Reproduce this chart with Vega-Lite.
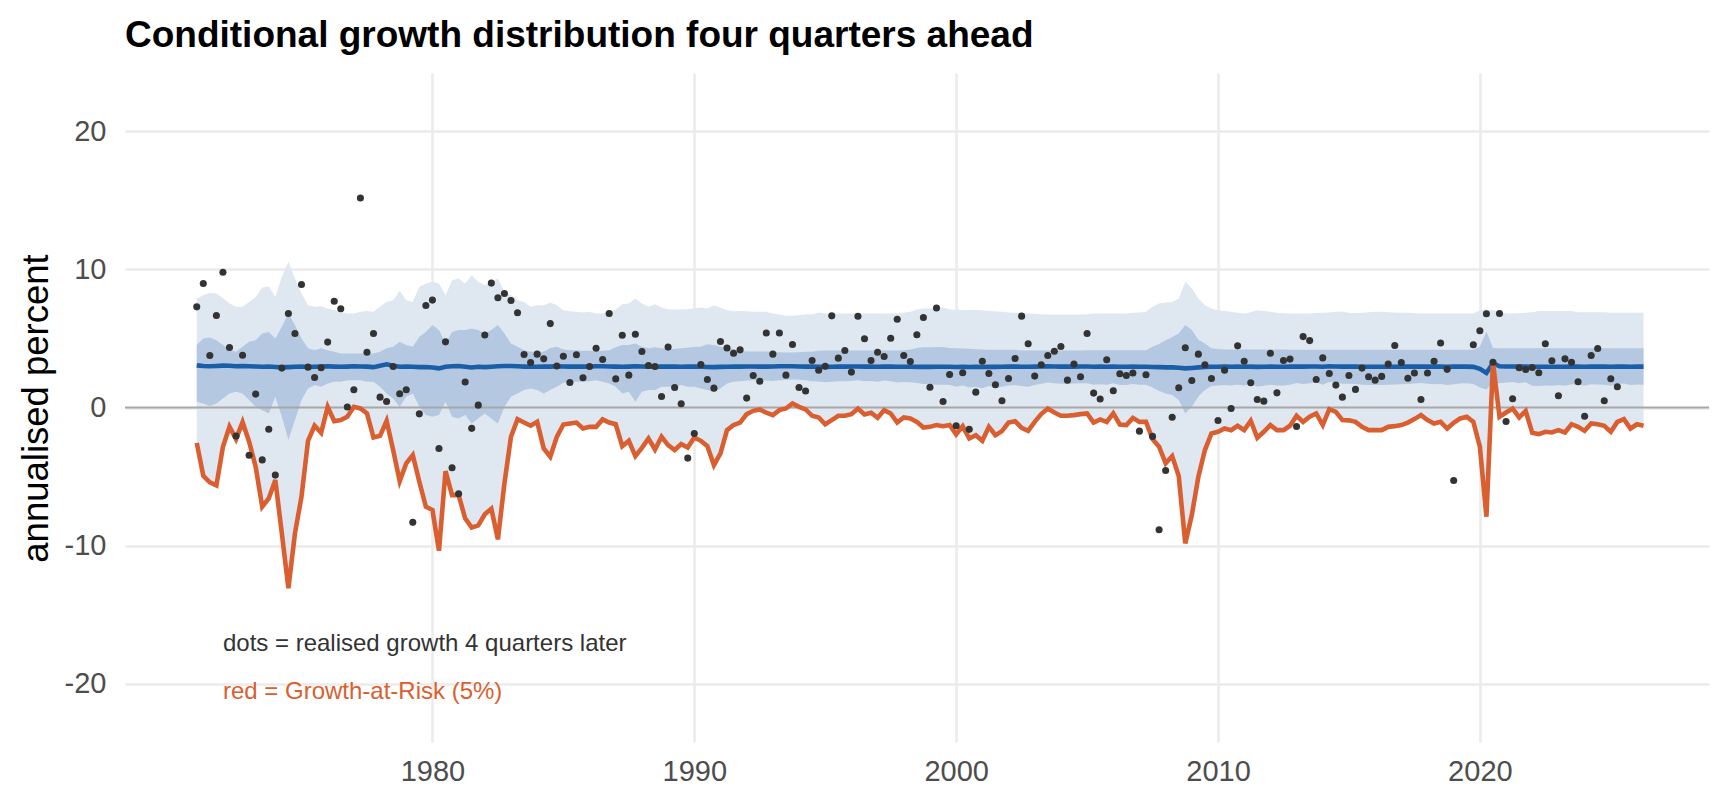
{
  "$schema": "https://vega.github.io/schema/vega-lite/v6.json",
  "width": 1584,
  "height": 669,
  "autosize": {"type": "none"},
  "padding": {"left": 125, "top": 73, "right": 19, "bottom": 64},
  "background": "white",
  "config": {
    "font": "Liberation Sans",
    "view": {"stroke": null},
    "axis": {
      "domain": false,
      "ticks": false,
      "tickSize": 0,
      "grid": true,
      "gridColor": "#ebebeb",
      "gridWidth": 2.6,
      "labelFont": "Liberation Sans",
      "labelFontSize": 29,
      "labelColor": "#4d4d4d"
    }
  },
  "title": {
    "text": "Conditional growth distribution four quarters ahead",
    "anchor": "start",
    "frame": "group",
    "font": "Liberation Sans",
    "fontSize": 37,
    "fontWeight": "bold",
    "color": "#000000",
    "baseline": "alphabetic",
    "offset": 28,
    "dy": 39
  },
  "data": {
    "values": [
      {"t":1971.00,"lo5":-2.56,"lo25":0.41,"med":3.05,"hi75":4.52,"hi95":7.88,"dot":7.28},
      {"t":1971.25,"lo5":-4.94,"lo25":0.29,"med":3.00,"hi75":5.00,"hi95":8.13,"dot":8.97},
      {"t":1971.50,"lo5":-5.42,"lo25":0.10,"med":2.98,"hi75":5.07,"hi95":8.30,"dot":3.76},
      {"t":1971.75,"lo5":-5.64,"lo25":0.29,"med":3.00,"hi75":4.87,"hi95":8.25,"dot":6.65},
      {"t":1972.00,"lo5":-2.84,"lo25":0.66,"med":3.03,"hi75":4.52,"hi95":7.90,"dot":9.79},
      {"t":1972.25,"lo5":-1.39,"lo25":1.02,"med":3.02,"hi75":4.15,"hi95":7.52,"dot":4.34},
      {"t":1972.50,"lo5":-2.29,"lo25":1.14,"med":2.98,"hi75":4.03,"hi95":7.28,"dot":-2.07},
      {"t":1972.75,"lo5":-1.06,"lo25":1.02,"med":3.00,"hi75":4.40,"hi95":7.28,"dot":3.78},
      {"t":1973.00,"lo5":-2.48,"lo25":0.54,"med":2.98,"hi75":4.75,"hi95":7.64,"dot":-3.45},
      {"t":1973.25,"lo5":-4.29,"lo25":0.05,"med":2.97,"hi75":4.87,"hi95":8.00,"dot":0.97},
      {"t":1973.50,"lo5":-7.18,"lo25":-0.19,"med":2.95,"hi75":5.35,"hi95":8.68,"dot":-3.79},
      {"t":1973.75,"lo5":-6.58,"lo25":-0.43,"med":2.97,"hi75":5.47,"hi95":8.78,"dot":-1.57},
      {"t":1974.00,"lo5":-5.25,"lo25":0.78,"med":2.93,"hi75":5.00,"hi95":8.00,"dot":-4.89},
      {"t":1974.25,"lo5":-9.11,"lo25":-0.67,"med":2.90,"hi75":5.84,"hi95":9.45,"dot":2.85},
      {"t":1974.50,"lo5":-13.08,"lo25":-2.36,"med":2.92,"hi75":6.80,"hi95":10.54,"dot":6.80},
      {"t":1974.75,"lo5":-9.11,"lo25":-0.91,"med":2.95,"hi75":5.96,"hi95":9.33,"dot":5.35},
      {"t":1975.00,"lo5":-6.45,"lo25":0.54,"med":2.97,"hi75":5.00,"hi95":8.25,"dot":8.90},
      {"t":1975.25,"lo5":-2.41,"lo25":1.38,"med":2.93,"hi75":4.28,"hi95":7.40,"dot":2.92},
      {"t":1975.50,"lo5":-1.32,"lo25":1.62,"med":2.95,"hi75":4.15,"hi95":7.28,"dot":2.17},
      {"t":1975.75,"lo5":-1.83,"lo25":1.50,"med":2.97,"hi75":4.28,"hi95":7.33,"dot":2.87},
      {"t":1976.00,"lo5":0.05,"lo25":1.74,"med":2.98,"hi75":4.15,"hi95":7.16,"dot":4.73},
      {"t":1976.25,"lo5":-0.99,"lo25":1.86,"med":2.96,"hi75":4.03,"hi95":7.04,"dot":7.69},
      {"t":1976.50,"lo5":-0.91,"lo25":1.86,"med":2.95,"hi75":3.91,"hi95":6.92,"dot":7.14},
      {"t":1976.75,"lo5":-0.67,"lo25":1.98,"med":2.96,"hi75":3.91,"hi95":6.80,"dot":0.03},
      {"t":1977.00,"lo5":0.05,"lo25":1.98,"med":2.98,"hi75":3.91,"hi95":6.80,"dot":1.28},
      {"t":1977.25,"lo5":-0.07,"lo25":1.98,"med":2.97,"hi75":3.91,"hi95":6.92,"dot":15.16},
      {"t":1977.50,"lo5":-0.43,"lo25":1.86,"med":2.96,"hi75":3.91,"hi95":6.98,"dot":4.00},
      {"t":1977.75,"lo5":-2.17,"lo25":1.86,"med":2.92,"hi75":3.91,"hi95":6.92,"dot":5.35},
      {"t":1978.00,"lo5":-2.05,"lo25":1.50,"med":3.02,"hi75":4.03,"hi95":7.28,"dot":0.75},
      {"t":1978.25,"lo5":-0.96,"lo25":1.02,"med":3.12,"hi75":4.28,"hi95":7.64,"dot":0.44},
      {"t":1978.50,"lo5":-3.08,"lo25":0.66,"med":3.02,"hi75":4.40,"hi95":7.76,"dot":2.97},
      {"t":1978.75,"lo5":-5.33,"lo25":0.05,"med":2.95,"hi75":4.75,"hi95":8.45,"dot":0.99},
      {"t":1979.00,"lo5":-4.04,"lo25":0.78,"med":2.97,"hi75":4.52,"hi95":7.76,"dot":1.28},
      {"t":1979.25,"lo5":-3.44,"lo25":1.02,"med":2.95,"hi75":4.40,"hi95":7.64,"dot":-8.31},
      {"t":1979.50,"lo5":-5.37,"lo25":0.05,"med":2.92,"hi75":5.12,"hi95":8.73,"dot":-0.46},
      {"t":1979.75,"lo5":-7.18,"lo25":-0.55,"med":2.93,"hi75":5.47,"hi95":8.97,"dot":7.38},
      {"t":1980.00,"lo5":-7.42,"lo25":-0.67,"med":2.90,"hi75":5.96,"hi95":9.09,"dot":7.77},
      {"t":1980.25,"lo5":-10.36,"lo25":-0.55,"med":2.83,"hi75":5.60,"hi95":8.97,"dot":-2.96},
      {"t":1980.50,"lo5":-4.60,"lo25":0.41,"med":2.95,"hi75":4.63,"hi95":8.13,"dot":4.75},
      {"t":1980.75,"lo5":-6.34,"lo25":-0.67,"med":2.98,"hi75":5.47,"hi95":9.21,"dot":-4.36},
      {"t":1981.00,"lo5":-6.34,"lo25":-0.79,"med":3.00,"hi75":5.60,"hi95":9.33,"dot":-6.24},
      {"t":1981.25,"lo5":-8.02,"lo25":-0.55,"med":2.95,"hi75":5.60,"hi95":8.97,"dot":1.84},
      {"t":1981.50,"lo5":-8.69,"lo25":-1.15,"med":2.90,"hi75":5.72,"hi95":9.57,"dot":-1.51},
      {"t":1981.75,"lo5":-8.53,"lo25":-0.79,"med":2.95,"hi75":5.60,"hi95":9.09,"dot":0.17},
      {"t":1982.00,"lo5":-7.73,"lo25":-0.43,"med":2.92,"hi75":5.35,"hi95":8.85,"dot":5.24},
      {"t":1982.25,"lo5":-7.32,"lo25":-0.79,"med":2.95,"hi75":5.60,"hi95":9.09,"dot":9.00},
      {"t":1982.50,"lo5":-9.54,"lo25":-1.15,"med":2.98,"hi75":5.96,"hi95":9.33,"dot":7.94},
      {"t":1982.75,"lo5":-5.49,"lo25":0.05,"med":3.00,"hi75":5.35,"hi95":8.37,"dot":8.25},
      {"t":1983.00,"lo5":-2.12,"lo25":0.78,"med":3.00,"hi75":4.63,"hi95":8.13,"dot":7.74},
      {"t":1983.25,"lo5":-0.84,"lo25":1.02,"med":2.98,"hi75":4.40,"hi95":7.76,"dot":6.85},
      {"t":1983.50,"lo5":-1.08,"lo25":1.26,"med":2.96,"hi75":4.15,"hi95":7.64,"dot":3.83},
      {"t":1983.75,"lo5":-1.32,"lo25":1.38,"med":2.95,"hi75":4.03,"hi95":7.28,"dot":3.25},
      {"t":1984.00,"lo5":-1.04,"lo25":1.26,"med":2.95,"hi75":4.03,"hi95":7.40,"dot":3.86},
      {"t":1984.25,"lo5":-2.96,"lo25":1.02,"med":2.97,"hi75":4.03,"hi95":7.40,"dot":3.52},
      {"t":1984.50,"lo5":-3.56,"lo25":1.26,"med":2.96,"hi75":4.30,"hi95":7.60,"dot":6.07},
      {"t":1984.75,"lo5":-2.12,"lo25":1.50,"med":2.98,"hi75":4.40,"hi95":7.40,"dot":3.00},
      {"t":1985.00,"lo5":-1.23,"lo25":1.79,"med":2.97,"hi75":4.20,"hi95":7.04,"dot":3.71},
      {"t":1985.25,"lo5":-1.16,"lo25":1.86,"med":2.96,"hi75":4.15,"hi95":6.97,"dot":1.81},
      {"t":1985.50,"lo5":-1.09,"lo25":1.86,"med":2.97,"hi75":4.15,"hi95":6.92,"dot":3.81},
      {"t":1985.75,"lo5":-1.52,"lo25":1.86,"med":2.96,"hi75":4.10,"hi95":6.87,"dot":2.15},
      {"t":1986.00,"lo5":-1.40,"lo25":1.90,"med":2.97,"hi75":4.10,"hi95":6.92,"dot":2.97},
      {"t":1986.25,"lo5":-1.40,"lo25":1.98,"med":2.98,"hi75":4.03,"hi95":6.80,"dot":4.29},
      {"t":1986.50,"lo5":-0.86,"lo25":1.86,"med":2.98,"hi75":4.10,"hi95":6.80,"dot":3.47},
      {"t":1986.75,"lo5":-1.09,"lo25":1.74,"med":2.97,"hi75":4.15,"hi95":6.92,"dot":6.80},
      {"t":1987.00,"lo5":-1.21,"lo25":1.50,"med":2.96,"hi75":4.35,"hi95":7.09,"dot":2.07},
      {"t":1987.25,"lo5":-2.80,"lo25":1.02,"med":2.95,"hi75":4.52,"hi95":7.47,"dot":5.23},
      {"t":1987.50,"lo5":-2.41,"lo25":1.14,"med":2.96,"hi75":4.52,"hi95":7.52,"dot":2.34},
      {"t":1987.75,"lo5":-3.52,"lo25":0.41,"med":2.98,"hi75":4.63,"hi95":7.88,"dot":5.30},
      {"t":1988.00,"lo5":-2.92,"lo25":1.14,"med":2.97,"hi75":4.40,"hi95":7.52,"dot":4.05},
      {"t":1988.25,"lo5":-2.24,"lo25":1.26,"med":2.96,"hi75":4.28,"hi95":7.28,"dot":3.04},
      {"t":1988.50,"lo5":-3.04,"lo25":1.26,"med":2.95,"hi75":4.35,"hi95":7.47,"dot":2.97},
      {"t":1988.75,"lo5":-2.12,"lo25":1.50,"med":2.96,"hi75":4.28,"hi95":7.23,"dot":0.80},
      {"t":1989.00,"lo5":-2.72,"lo25":1.50,"med":2.97,"hi75":4.23,"hi95":7.09,"dot":4.37},
      {"t":1989.25,"lo5":-3.08,"lo25":1.50,"med":2.96,"hi75":4.23,"hi95":7.09,"dot":1.45},
      {"t":1989.50,"lo5":-2.65,"lo25":1.62,"med":2.95,"hi75":4.28,"hi95":7.09,"dot":0.27},
      {"t":1989.75,"lo5":-2.89,"lo25":1.50,"med":2.96,"hi75":4.33,"hi95":7.11,"dot":-3.66},
      {"t":1990.00,"lo5":-2.17,"lo25":1.50,"med":2.97,"hi75":4.40,"hi95":7.16,"dot":-1.88},
      {"t":1990.25,"lo5":-2.41,"lo25":1.38,"med":2.95,"hi75":4.40,"hi95":7.23,"dot":3.11},
      {"t":1990.50,"lo5":-2.80,"lo25":1.26,"med":2.93,"hi75":4.58,"hi95":7.16,"dot":2.03},
      {"t":1990.75,"lo5":-4.17,"lo25":1.14,"med":2.92,"hi75":4.52,"hi95":7.40,"dot":1.40},
      {"t":1991.00,"lo5":-3.32,"lo25":1.38,"med":2.94,"hi75":4.40,"hi95":7.21,"dot":4.77},
      {"t":1991.25,"lo5":-1.64,"lo25":1.74,"med":2.95,"hi75":4.28,"hi95":7.04,"dot":4.31},
      {"t":1991.50,"lo5":-1.27,"lo25":1.86,"med":2.96,"hi75":4.23,"hi95":6.97,"dot":3.93},
      {"t":1991.75,"lo5":-1.09,"lo25":1.90,"med":2.96,"hi75":4.10,"hi95":6.99,"dot":4.17},
      {"t":1992.00,"lo5":-0.48,"lo25":1.95,"med":2.97,"hi75":4.05,"hi95":6.97,"dot":0.68},
      {"t":1992.25,"lo5":-0.24,"lo25":1.98,"med":2.97,"hi75":4.05,"hi95":6.92,"dot":2.32},
      {"t":1992.50,"lo5":-0.14,"lo25":1.98,"med":2.96,"hi75":4.05,"hi95":6.92,"dot":1.90},
      {"t":1992.75,"lo5":-0.38,"lo25":1.95,"med":2.96,"hi75":4.05,"hi95":6.92,"dot":5.39},
      {"t":1993.00,"lo5":-0.55,"lo25":1.92,"med":2.97,"hi75":4.03,"hi95":6.80,"dot":3.86},
      {"t":1993.25,"lo5":-0.19,"lo25":1.98,"med":2.98,"hi75":4.00,"hi95":6.72,"dot":5.39},
      {"t":1993.50,"lo5":-0.07,"lo25":2.00,"med":2.98,"hi75":3.98,"hi95":6.63,"dot":2.34},
      {"t":1993.75,"lo5":0.29,"lo25":2.02,"med":2.98,"hi75":3.98,"hi95":6.63,"dot":4.56},
      {"t":1994.00,"lo5":0.05,"lo25":2.00,"med":2.97,"hi75":4.00,"hi95":6.68,"dot":1.45},
      {"t":1994.25,"lo5":-0.14,"lo25":1.98,"med":2.96,"hi75":4.03,"hi95":6.75,"dot":1.19},
      {"t":1994.50,"lo5":-0.60,"lo25":1.90,"med":2.96,"hi75":4.03,"hi95":6.72,"dot":3.40},
      {"t":1994.75,"lo5":-0.72,"lo25":1.88,"med":2.95,"hi75":4.10,"hi95":6.87,"dot":2.70},
      {"t":1995.00,"lo5":-1.21,"lo25":1.82,"med":2.94,"hi75":4.12,"hi95":6.80,"dot":2.99},
      {"t":1995.25,"lo5":-0.91,"lo25":1.86,"med":2.95,"hi75":4.12,"hi95":6.80,"dot":6.63},
      {"t":1995.50,"lo5":-0.60,"lo25":1.90,"med":2.96,"hi75":4.12,"hi95":6.80,"dot":3.57},
      {"t":1995.75,"lo5":-0.60,"lo25":1.90,"med":2.96,"hi75":4.12,"hi95":6.80,"dot":4.12},
      {"t":1996.00,"lo5":-0.48,"lo25":1.92,"med":2.97,"hi75":4.12,"hi95":6.80,"dot":2.56},
      {"t":1996.25,"lo5":-0.07,"lo25":1.98,"med":2.97,"hi75":4.12,"hi95":6.80,"dot":6.60},
      {"t":1996.50,"lo5":-0.50,"lo25":1.90,"med":2.96,"hi75":4.12,"hi95":6.80,"dot":4.97},
      {"t":1996.75,"lo5":-0.38,"lo25":1.92,"med":2.96,"hi75":4.12,"hi95":6.80,"dot":3.40},
      {"t":1997.00,"lo5":-0.75,"lo25":1.86,"med":2.95,"hi75":4.12,"hi95":6.80,"dot":4.00},
      {"t":1997.25,"lo5":-0.19,"lo25":1.95,"med":2.96,"hi75":4.12,"hi95":6.80,"dot":3.69},
      {"t":1997.50,"lo5":-0.43,"lo25":1.90,"med":2.96,"hi75":4.12,"hi95":6.80,"dot":5.01},
      {"t":1997.75,"lo5":-1.09,"lo25":1.80,"med":2.95,"hi75":4.12,"hi95":6.80,"dot":6.39},
      {"t":1998.00,"lo5":-0.72,"lo25":1.85,"med":2.95,"hi75":4.15,"hi95":6.85,"dot":3.76},
      {"t":1998.25,"lo5":-0.79,"lo25":1.82,"med":2.95,"hi75":4.20,"hi95":6.92,"dot":3.33},
      {"t":1998.50,"lo5":-1.04,"lo25":1.78,"med":2.94,"hi75":4.30,"hi95":7.09,"dot":5.26},
      {"t":1998.75,"lo5":-1.45,"lo25":1.70,"med":2.94,"hi75":4.35,"hi95":7.16,"dot":6.51},
      {"t":1999.00,"lo5":-1.40,"lo25":1.68,"med":2.94,"hi75":4.35,"hi95":7.16,"dot":1.47},
      {"t":1999.25,"lo5":-1.27,"lo25":1.65,"med":2.95,"hi75":4.38,"hi95":7.23,"dot":7.20},
      {"t":1999.50,"lo5":-1.35,"lo25":1.65,"med":2.95,"hi75":4.38,"hi95":7.23,"dot":0.44},
      {"t":1999.75,"lo5":-1.27,"lo25":1.62,"med":2.95,"hi75":4.30,"hi95":7.09,"dot":2.39},
      {"t":2000.00,"lo5":-1.95,"lo25":1.50,"med":2.93,"hi75":4.28,"hi95":7.07,"dot":-1.32},
      {"t":2000.25,"lo5":-1.35,"lo25":1.60,"med":2.95,"hi75":4.27,"hi95":7.05,"dot":2.51},
      {"t":2000.50,"lo5":-2.24,"lo25":1.45,"med":2.93,"hi75":4.25,"hi95":7.05,"dot":-1.58},
      {"t":2000.75,"lo5":-2.00,"lo25":1.50,"med":2.94,"hi75":4.22,"hi95":7.05,"dot":1.11},
      {"t":2001.00,"lo5":-2.41,"lo25":1.40,"med":2.93,"hi75":4.20,"hi95":7.03,"dot":3.35},
      {"t":2001.25,"lo5":-1.40,"lo25":1.55,"med":2.95,"hi75":4.17,"hi95":6.99,"dot":2.46},
      {"t":2001.50,"lo5":-2.00,"lo25":1.45,"med":2.94,"hi75":4.17,"hi95":6.95,"dot":1.64},
      {"t":2001.75,"lo5":-1.71,"lo25":1.50,"med":2.95,"hi75":4.17,"hi95":6.92,"dot":0.49},
      {"t":2002.00,"lo5":-1.09,"lo25":1.60,"med":2.96,"hi75":4.17,"hi95":6.88,"dot":2.10},
      {"t":2002.25,"lo5":-0.99,"lo25":1.62,"med":2.96,"hi75":4.17,"hi95":6.85,"dot":3.55},
      {"t":2002.50,"lo5":-1.47,"lo25":1.55,"med":2.95,"hi75":4.13,"hi95":6.82,"dot":6.61},
      {"t":2002.75,"lo5":-1.69,"lo25":1.50,"med":2.95,"hi75":4.13,"hi95":6.80,"dot":4.61},
      {"t":2003.00,"lo5":-1.04,"lo25":1.62,"med":2.96,"hi75":4.13,"hi95":6.78,"dot":2.27},
      {"t":2003.25,"lo5":-0.48,"lo25":1.72,"med":2.97,"hi75":4.13,"hi95":6.75,"dot":3.09},
      {"t":2003.50,"lo5":-0.07,"lo25":1.80,"med":2.98,"hi75":4.13,"hi95":6.73,"dot":3.76},
      {"t":2003.75,"lo5":-0.36,"lo25":1.76,"med":2.97,"hi75":4.13,"hi95":6.72,"dot":4.07},
      {"t":2004.00,"lo5":-0.60,"lo25":1.72,"med":2.96,"hi75":4.13,"hi95":6.72,"dot":4.41},
      {"t":2004.25,"lo5":-0.60,"lo25":1.72,"med":2.96,"hi75":4.13,"hi95":6.72,"dot":1.98},
      {"t":2004.50,"lo5":-0.55,"lo25":1.74,"med":2.96,"hi75":4.13,"hi95":6.72,"dot":3.14},
      {"t":2004.75,"lo5":-0.48,"lo25":1.75,"med":2.97,"hi75":4.13,"hi95":6.72,"dot":2.22},
      {"t":2005.00,"lo5":-0.43,"lo25":1.76,"med":2.97,"hi75":4.15,"hi95":6.75,"dot":5.35},
      {"t":2005.25,"lo5":-1.09,"lo25":1.65,"med":2.95,"hi75":4.15,"hi95":6.80,"dot":1.04},
      {"t":2005.50,"lo5":-0.86,"lo25":1.68,"med":2.96,"hi75":4.15,"hi95":6.80,"dot":0.61},
      {"t":2005.75,"lo5":-1.04,"lo25":1.65,"med":2.95,"hi75":4.15,"hi95":6.80,"dot":3.45},
      {"t":2006.00,"lo5":-0.43,"lo25":1.75,"med":2.96,"hi75":4.15,"hi95":6.80,"dot":1.21},
      {"t":2006.25,"lo5":-1.23,"lo25":1.62,"med":2.95,"hi75":4.15,"hi95":6.80,"dot":2.44},
      {"t":2006.50,"lo5":-1.27,"lo25":1.62,"med":2.95,"hi75":4.15,"hi95":6.80,"dot":2.32},
      {"t":2006.75,"lo5":-0.75,"lo25":1.70,"med":2.96,"hi75":4.15,"hi95":6.85,"dot":2.49},
      {"t":2007.00,"lo5":-1.04,"lo25":1.65,"med":2.95,"hi75":4.15,"hi95":6.88,"dot":-1.71},
      {"t":2007.25,"lo5":-1.04,"lo25":1.65,"med":2.95,"hi75":4.15,"hi95":6.92,"dot":2.37},
      {"t":2007.50,"lo5":-2.29,"lo25":1.45,"med":2.93,"hi75":4.40,"hi95":7.28,"dot":-2.09},
      {"t":2007.75,"lo5":-2.84,"lo25":1.20,"med":2.92,"hi75":4.60,"hi95":7.52,"dot":-8.84},
      {"t":2008.00,"lo5":-4.04,"lo25":1.02,"med":2.90,"hi75":4.87,"hi95":7.60,"dot":-4.56},
      {"t":2008.25,"lo5":-3.52,"lo25":0.90,"med":2.90,"hi75":5.10,"hi95":7.64,"dot":-0.70},
      {"t":2008.50,"lo5":-4.96,"lo25":0.54,"med":2.88,"hi75":5.35,"hi95":7.88,"dot":1.43},
      {"t":2008.75,"lo5":-9.83,"lo25":-0.43,"med":2.83,"hi75":5.96,"hi95":9.09,"dot":4.32},
      {"t":2009.00,"lo5":-7.78,"lo25":0.05,"med":2.86,"hi75":5.60,"hi95":8.61,"dot":1.95},
      {"t":2009.25,"lo5":-5.01,"lo25":0.80,"med":2.90,"hi75":4.90,"hi95":7.88,"dot":3.86},
      {"t":2009.50,"lo5":-3.08,"lo25":1.26,"med":2.93,"hi75":4.63,"hi95":7.40,"dot":3.09},
      {"t":2009.75,"lo5":-1.88,"lo25":1.55,"med":2.95,"hi75":4.28,"hi95":7.16,"dot":2.10},
      {"t":2010.00,"lo5":-1.76,"lo25":1.60,"med":2.95,"hi75":4.23,"hi95":7.04,"dot":-0.94},
      {"t":2010.25,"lo5":-1.52,"lo25":1.62,"med":2.96,"hi75":4.20,"hi95":6.99,"dot":2.70},
      {"t":2010.50,"lo5":-1.64,"lo25":1.60,"med":2.95,"hi75":4.20,"hi95":6.92,"dot":-0.07},
      {"t":2010.75,"lo5":-1.32,"lo25":1.65,"med":2.96,"hi75":4.20,"hi95":6.85,"dot":4.46},
      {"t":2011.00,"lo5":-1.64,"lo25":1.60,"med":2.95,"hi75":4.20,"hi95":6.80,"dot":3.35},
      {"t":2011.25,"lo5":-0.96,"lo25":1.72,"med":2.96,"hi75":4.20,"hi95":6.90,"dot":1.79},
      {"t":2011.50,"lo5":-2.19,"lo25":1.50,"med":2.94,"hi75":4.20,"hi95":7.04,"dot":0.58},
      {"t":2011.75,"lo5":-1.76,"lo25":1.58,"med":2.95,"hi75":4.20,"hi95":6.98,"dot":0.46},
      {"t":2012.00,"lo5":-1.27,"lo25":1.65,"med":2.96,"hi75":4.20,"hi95":6.92,"dot":3.93},
      {"t":2012.25,"lo5":-1.64,"lo25":1.60,"med":2.95,"hi75":4.20,"hi95":6.85,"dot":1.06},
      {"t":2012.50,"lo5":-1.64,"lo25":1.60,"med":2.95,"hi75":4.20,"hi95":6.82,"dot":3.40},
      {"t":2012.75,"lo5":-1.32,"lo25":1.65,"med":2.96,"hi75":4.18,"hi95":6.80,"dot":3.50},
      {"t":2013.00,"lo5":-0.60,"lo25":1.78,"med":2.97,"hi75":4.18,"hi95":6.80,"dot":-1.37},
      {"t":2013.25,"lo5":-1.04,"lo25":1.70,"med":2.96,"hi75":4.18,"hi95":6.80,"dot":5.13},
      {"t":2013.50,"lo5":-0.67,"lo25":1.76,"med":2.97,"hi75":4.18,"hi95":6.80,"dot":4.84},
      {"t":2013.75,"lo5":-0.43,"lo25":1.80,"med":2.97,"hi75":4.18,"hi95":6.83,"dot":2.03},
      {"t":2014.00,"lo5":-1.27,"lo25":1.65,"med":2.95,"hi75":4.18,"hi95":6.85,"dot":3.59},
      {"t":2014.25,"lo5":-0.12,"lo25":1.85,"med":2.98,"hi75":4.18,"hi95":6.88,"dot":2.46},
      {"t":2014.50,"lo5":-0.31,"lo25":1.82,"med":2.97,"hi75":4.18,"hi95":6.92,"dot":1.62},
      {"t":2014.75,"lo5":-0.91,"lo25":1.72,"med":2.96,"hi75":4.18,"hi95":6.95,"dot":0.75},
      {"t":2015.00,"lo5":-0.93,"lo25":1.72,"med":2.96,"hi75":4.18,"hi95":6.85,"dot":2.32},
      {"t":2015.25,"lo5":-1.04,"lo25":1.70,"med":2.96,"hi75":4.17,"hi95":6.82,"dot":1.31},
      {"t":2015.50,"lo5":-1.40,"lo25":1.65,"med":2.95,"hi75":4.17,"hi95":6.85,"dot":2.85},
      {"t":2015.75,"lo5":-1.64,"lo25":1.62,"med":2.95,"hi75":4.17,"hi95":6.90,"dot":2.22},
      {"t":2016.00,"lo5":-1.64,"lo25":1.62,"med":2.95,"hi75":4.17,"hi95":6.92,"dot":1.98},
      {"t":2016.25,"lo5":-1.64,"lo25":1.62,"med":2.95,"hi75":4.17,"hi95":6.92,"dot":2.25},
      {"t":2016.50,"lo5":-1.40,"lo25":1.65,"med":2.95,"hi75":4.17,"hi95":6.90,"dot":3.14},
      {"t":2016.75,"lo5":-1.35,"lo25":1.66,"med":2.95,"hi75":4.17,"hi95":6.88,"dot":4.49},
      {"t":2017.00,"lo5":-1.27,"lo25":1.68,"med":2.96,"hi75":4.17,"hi95":6.85,"dot":3.25},
      {"t":2017.25,"lo5":-1.09,"lo25":1.70,"med":2.96,"hi75":4.17,"hi95":6.85,"dot":2.12},
      {"t":2017.50,"lo5":-0.84,"lo25":1.74,"med":2.96,"hi75":4.17,"hi95":6.82,"dot":2.49},
      {"t":2017.75,"lo5":-0.55,"lo25":1.78,"med":2.97,"hi75":4.17,"hi95":6.80,"dot":0.58},
      {"t":2018.00,"lo5":-0.91,"lo25":1.72,"med":2.96,"hi75":4.17,"hi95":6.80,"dot":2.49},
      {"t":2018.25,"lo5":-1.16,"lo25":1.68,"med":2.96,"hi75":4.17,"hi95":6.80,"dot":3.35},
      {"t":2018.50,"lo5":-1.04,"lo25":1.70,"med":2.96,"hi75":4.17,"hi95":6.80,"dot":4.66},
      {"t":2018.75,"lo5":-1.52,"lo25":1.62,"med":2.95,"hi75":4.17,"hi95":6.80,"dot":2.76},
      {"t":2019.00,"lo5":-1.11,"lo25":1.69,"med":2.96,"hi75":4.17,"hi95":6.80,"dot":-5.28},
      {"t":2019.25,"lo5":-0.79,"lo25":1.74,"med":2.96,"hi75":4.17,"hi95":6.80,"dot":null},
      {"t":2019.50,"lo5":-0.67,"lo25":1.76,"med":2.96,"hi75":4.17,"hi95":6.80,"dot":null},
      {"t":2019.75,"lo5":-1.04,"lo25":1.70,"med":2.94,"hi75":4.17,"hi95":6.80,"dot":4.54},
      {"t":2020.00,"lo5":-2.84,"lo25":1.45,"med":2.80,"hi75":4.40,"hi95":7.04,"dot":5.55},
      {"t":2020.25,"lo5":-7.90,"lo25":1.30,"med":2.50,"hi75":5.50,"hi95":7.09,"dot":6.78},
      {"t":2020.50,"lo5":3.25,"lo25":1.86,"med":3.20,"hi75":4.30,"hi95":7.04,"dot":3.28},
      {"t":2020.75,"lo5":-0.67,"lo25":1.76,"med":2.98,"hi75":4.28,"hi95":6.92,"dot":6.80},
      {"t":2021.00,"lo5":-0.36,"lo25":1.80,"med":2.97,"hi75":4.28,"hi95":6.80,"dot":-1.01},
      {"t":2021.25,"lo5":-0.07,"lo25":1.85,"med":2.97,"hi75":4.28,"hi95":6.80,"dot":0.63},
      {"t":2021.50,"lo5":-0.72,"lo25":1.75,"med":2.96,"hi75":4.28,"hi95":6.82,"dot":2.87},
      {"t":2021.75,"lo5":-0.26,"lo25":1.82,"med":2.97,"hi75":4.28,"hi95":6.85,"dot":2.75},
      {"t":2022.00,"lo5":-1.83,"lo25":1.58,"med":2.95,"hi75":4.28,"hi95":6.90,"dot":2.90},
      {"t":2022.25,"lo5":-1.93,"lo25":1.56,"med":2.95,"hi75":4.28,"hi95":6.99,"dot":2.51},
      {"t":2022.50,"lo5":-1.76,"lo25":1.60,"med":2.95,"hi75":4.28,"hi95":6.98,"dot":4.61},
      {"t":2022.75,"lo5":-1.81,"lo25":1.58,"med":2.95,"hi75":4.28,"hi95":6.98,"dot":3.38},
      {"t":2023.00,"lo5":-1.64,"lo25":1.62,"med":2.95,"hi75":4.28,"hi95":6.98,"dot":0.85},
      {"t":2023.25,"lo5":-1.81,"lo25":1.58,"med":2.95,"hi75":4.28,"hi95":6.98,"dot":3.52},
      {"t":2023.50,"lo5":-1.21,"lo25":1.68,"med":2.96,"hi75":4.28,"hi95":6.98,"dot":3.28},
      {"t":2023.75,"lo5":-1.40,"lo25":1.65,"med":2.96,"hi75":4.28,"hi95":6.90,"dot":1.86},
      {"t":2024.00,"lo5":-1.69,"lo25":1.60,"med":2.95,"hi75":4.28,"hi95":6.90,"dot":-0.63},
      {"t":2024.25,"lo5":-1.16,"lo25":1.68,"med":2.96,"hi75":4.28,"hi95":6.90,"dot":3.76},
      {"t":2024.50,"lo5":-1.21,"lo25":1.67,"med":2.96,"hi75":4.28,"hi95":6.90,"dot":4.27},
      {"t":2024.75,"lo5":-1.32,"lo25":1.65,"med":2.96,"hi75":4.28,"hi95":6.90,"dot":0.49},
      {"t":2025.00,"lo5":-1.76,"lo25":1.58,"med":2.95,"hi75":4.28,"hi95":6.86,"dot":2.08},
      {"t":2025.25,"lo5":-1.04,"lo25":1.70,"med":2.96,"hi75":4.28,"hi95":6.86,"dot":1.50},
      {"t":2025.50,"lo5":-0.84,"lo25":1.73,"med":2.96,"hi75":4.28,"hi95":6.86,"dot":null},
      {"t":2025.75,"lo5":-1.52,"lo25":1.62,"med":2.95,"hi75":4.28,"hi95":6.86,"dot":null},
      {"t":2026.00,"lo5":-1.21,"lo25":1.67,"med":2.96,"hi75":4.28,"hi95":6.86,"dot":null},
      {"t":2026.25,"lo5":-1.32,"lo25":1.65,"med":2.96,"hi75":4.28,"hi95":6.86,"dot":null}
    ]
  },
  "layer": [
    {
      "mark": {"type": "area", "color": "#dfe7f1", "interpolate": "linear"},
      "encoding": {
        "x": {
          "field": "t", "type": "quantitative", "title": null,
          "scale": {"domain": [1968.26, 2028.75], "nice": false, "zero": false},
          "axis": {"values": [1980, 1990, 2000, 2010, 2020], "format": "d", "labelPadding": 15, "labelFlush": false, "labelOverlap": false}
        },
        "y": {
          "field": "hi95", "type": "quantitative", "title": "annualised percent",
          "scale": {"domain": [-24.2, 24.2], "nice": false, "zero": false},
          "axis": {
            "values": [-20, -10, 0, 10, 20], "labelPadding": 19, "labelExpr": "'' + datum.value",
            "titleFont": "Liberation Sans", "titleFontSize": 36.5, "titleFontWeight": "normal", "titleColor": "#000000",
            "titleAngle": -90, "titleAlign": "center", "titleBaseline": "alphabetic", "titleX": -78, "titleY": 335
          }
        },
        "y2": {"field": "lo5"}
      }
    },
    {
      "mark": {"type": "area", "color": "#b4c9e1", "interpolate": "linear"},
      "encoding": {
        "x": {"field": "t", "type": "quantitative", "title": null},
        "y": {"field": "hi75", "type": "quantitative", "title": "annualised percent"},
        "y2": {"field": "lo25"}
      }
    },
    {
      "data": {"values": [{"zero": 0}]},
      "mark": {"type": "rule", "color": "#a8a8a8", "strokeWidth": 2},
      "encoding": {
        "y": {"field": "zero", "type": "quantitative", "title": "annualised percent"}
      }
    },
    {
      "mark": {"type": "line", "color": "#1a5ea8", "strokeWidth": 4.6},
      "encoding": {
        "x": {"field": "t", "type": "quantitative", "title": null},
        "y": {"field": "med", "type": "quantitative", "title": "annualised percent"}
      }
    },
    {
      "mark": {"type": "line", "color": "#d95f30", "strokeWidth": 4.6},
      "encoding": {
        "x": {"field": "t", "type": "quantitative", "title": null},
        "y": {"field": "lo5", "type": "quantitative", "title": "annualised percent"}
      }
    },
    {
      "mark": {"type": "circle", "color": "#333333", "size": 50, "opacity": 1},
      "encoding": {
        "x": {"field": "t", "type": "quantitative", "title": null},
        "y": {"field": "dot", "type": "quantitative", "title": "annualised percent"}
      }
    },
    {
      "data": {
        "values": [
          {"t": 1972, "v": -17.6, "label": "dots = realised growth 4 quarters later"},
          {"t": 1972, "v": -21.1, "label": "red = Growth-at-Risk (5%)"}
        ]
      },
      "mark": {"type": "text", "align": "left", "baseline": "alphabetic", "font": "Liberation Sans", "fontSize": 24},
      "encoding": {
        "x": {"field": "t", "type": "quantitative", "title": null},
        "y": {"field": "v", "type": "quantitative", "title": "annualised percent"},
        "text": {"field": "label"},
        "color": {
          "field": "label", "type": "nominal", "legend": null,
          "scale": {"domain": ["dots = realised growth 4 quarters later", "red = Growth-at-Risk (5%)"], "range": ["#333333", "#d95f30"]}
        }
      }
    }
  ]
}
